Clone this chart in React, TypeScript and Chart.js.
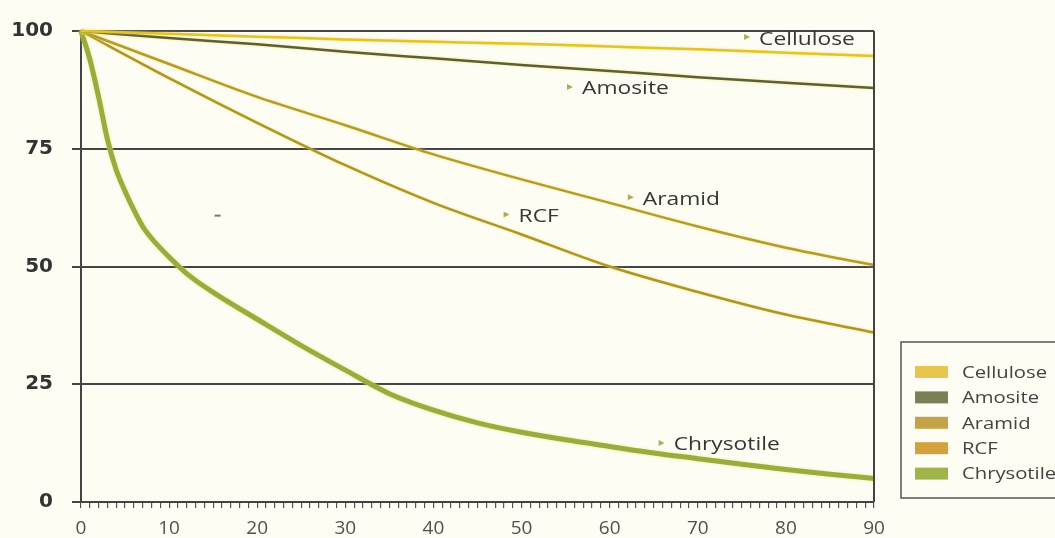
import React, { useEffect, useRef } from 'react';
import { Chart, registerables } from 'chart.js';

Chart.register(...registerables);

// ---- data ----
const fibres = ['Cellulose', 'Amosite', 'Aramid', 'RCF', 'Chrysotile'];
const daysCoarse = [0, 10, 20, 30, 40, 50, 60, 70, 80, 90];
const cellulose = [100, 99.4, 98.8, 98.2, 97.7, 97.3, 96.7, 96.1, 95.4, 94.7];
const amosite = [100, 98.5, 97.2, 95.6, 94.2, 92.8, 91.5, 90.2, 89.0, 87.9];
const aramid = [100, 93, 86, 80, 73.8, 68.5, 63.5, 58.5, 54, 50.3];
const rcf = [100, 90, 80.5, 71.5, 63.5, 56.8, 50, 44.6, 39.8, 36];
const daysFine = [0, 1, 2, 3, 4, 5, 6, 7, 8, 10, 12, 15, 20, 25, 30, 35, 40, 45, 50, 55, 60, 65, 70, 75, 80, 85, 90];
const chrysotile = [100, 94, 86, 77, 70.5, 66, 62, 58.5, 56, 52, 48.5, 44.5, 38.8, 33.2, 28, 23, 19.5, 16.8, 14.8, 13.2, 11.8, 10.4, 9.2, 8, 6.9, 5.9, 5];
const yTicks = [0, 25, 50, 75, 100];
const xLabelStep = 10;
// in-chart label anchors (data units)
const labelDay = [75.6, 55.5, 62.4, 48.3, 65.9];
const labelPct = [98.7, 88.1, 64.7, 61.05, 12.55];

// ---- styles ----
const lineColors = ['#e2c22e', '#5c5e3c', '#b39a32', '#ad9430', '#9aab42'];
const lineWidths = [2.5, 2.5, 2.5, 2.5, 5];
const swatchColors = ['#e8c54c', '#7b7f56', '#c4a248', '#d4a23c', '#a0b44c'];
const BG = '#fdfdf3';

const seriesValues = [cellulose, amosite, aramid, rcf, chrysotile];
const seriesDays = [daysCoarse, daysCoarse, daysCoarse, daysCoarse, daysFine];

function drawStretchedText(ctx: CanvasRenderingContext2D, text: string, x: number, y: number, sx: number) {
  ctx.save();
  ctx.translate(x, y);
  ctx.scale(sx, 1);
  ctx.fillText(text, 0, 0);
  ctx.restore();
}

const decorPlugin = {
  id: 'decor',
  beforeDraw(chart: any) {
    const { ctx, width, height } = chart;
    ctx.save();
    ctx.fillStyle = BG;
    ctx.fillRect(0, 0, width, height);
    ctx.restore();
  },
  beforeDatasetDraw(chart: any) {
    const ctx = chart.ctx;
    ctx.save();
    ctx.shadowColor = 'rgba(245,225,70,0.75)';
    ctx.shadowBlur = 2.5;
  },
  afterDatasetDraw(chart: any) {
    chart.ctx.restore();
  },
  afterDraw(chart: any) {
    const { ctx, chartArea, scales } = chart;
    // right frame line
    ctx.save();
    ctx.strokeStyle = '#444';
    ctx.lineWidth = 2;
    ctx.beginPath();
    ctx.moveTo(chartArea.right, chartArea.top);
    ctx.lineTo(chartArea.right, chartArea.bottom);
    ctx.stroke();

    // in-chart labels
    ctx.font = '19px "Open Sans"';
    ctx.textBaseline = 'middle';
    ctx.textAlign = 'left';
    fibres.forEach((name, i) => {
      const px = scales.x.getPixelForValue(labelDay[i]);
      const py = scales.y.getPixelForValue(labelPct[i]);
      ctx.fillStyle = '#b5a858';
      ctx.beginPath();
      ctx.moveTo(px - 3, py - 3);
      ctx.lineTo(px + 3, py);
      ctx.lineTo(px - 3, py + 3);
      ctx.closePath();
      ctx.fill();
      ctx.fillStyle = '#363636';
      drawStretchedText(ctx, name, px + 12, py + 2, 1.2);
    });

    // small stray mark
    const mx = scales.x.getPixelForValue(15.5);
    const my = scales.y.getPixelForValue(60.8);
    ctx.fillStyle = '#777';
    ctx.fillRect(mx - 3, my - 1, 6, 2);

    // legend box
    const bx = 901, by = 342, bh = 156;
    ctx.strokeStyle = '#555';
    ctx.lineWidth = 1.5;
    ctx.fillStyle = BG;
    ctx.fillRect(bx, by, 200, bh);
    ctx.strokeRect(bx, by, 200, bh);
    ctx.font = '17px "Open Sans"';
    ctx.textBaseline = 'middle';
    fibres.forEach((name, i) => {
      const cy = 372 + i * 25.4;
      ctx.fillStyle = swatchColors[i];
      ctx.fillRect(915, cy - 6, 33, 12);
      ctx.fillStyle = '#444';
      drawStretchedText(ctx, name, 962, cy + 1, 1.19);
    });
    ctx.restore();
  },
};

export default function App() {
  const ref = useRef<HTMLCanvasElement>(null);
  useEffect(() => {
    if (!ref.current) return;
    const chart = new Chart(ref.current, {
      type: 'line',
      data: {
        datasets: fibres.map((name, i) => ({
          label: name,
          data: seriesDays[i].map((d, k) => ({ x: d, y: seriesValues[i][k] })),
          borderColor: lineColors[i],
          backgroundColor: lineColors[i],
          borderWidth: lineWidths[i],
          pointRadius: 0,
          cubicInterpolationMode: 'monotone' as const,
          fill: false,
          clip: 6,
        })),
      },
      options: {
        animation: false,
        responsive: false,
        maintainAspectRatio: false,
        layout: { padding: { left: 0, right: 181, top: 24, bottom: 0 } },
        plugins: { legend: { display: false }, tooltip: { enabled: false } },
        scales: {
          x: {
            type: 'linear',
            min: 0,
            max: 90,
            ticks: {
              stepSize: 1,
              maxTicksLimit: 200,
              autoSkip: false,
              maxRotation: 0,
              callback: (v: any) => (Number(v) % xLabelStep === 0 ? String(v) : ''),
              font: { family: 'Open Sans', size: 19 },
              color: '#505050',
              padding: 9,
            },
            grid: { drawOnChartArea: false, drawTicks: true, tickLength: 6, color: '#555', lineWidth: 1.2 },
            border: { display: true, color: '#444', width: 2 },
            afterFit: (s: any) => { s.height = 36; },
          },
          y: {
            min: 0,
            max: 100,
            afterBuildTicks: (s: any) => { s.ticks = yTicks.map((v) => ({ value: v })); },
            ticks: {
              font: { family: 'DejaVu Sans', size: 20, weight: 'bold' },
              color: '#333',
              padding: 19,
            },
            grid: { color: '#444', lineWidth: 2, tickLength: 9 },
            border: { display: true, color: '#444', width: 2 },
            afterFit: (s: any) => { s.width = 81; },
          },
        },
      },
      plugins: [decorPlugin],
    } as any);
    return () => chart.destroy();
  }, []);
  return (
    <div style={{ position: 'fixed', left: 0, top: 0, width: 1055, height: 538, background: BG }}>
      <canvas ref={ref} width={1055} height={538} style={{ width: 1055, height: 538, display: 'block' }} />
    </div>
  );
}
